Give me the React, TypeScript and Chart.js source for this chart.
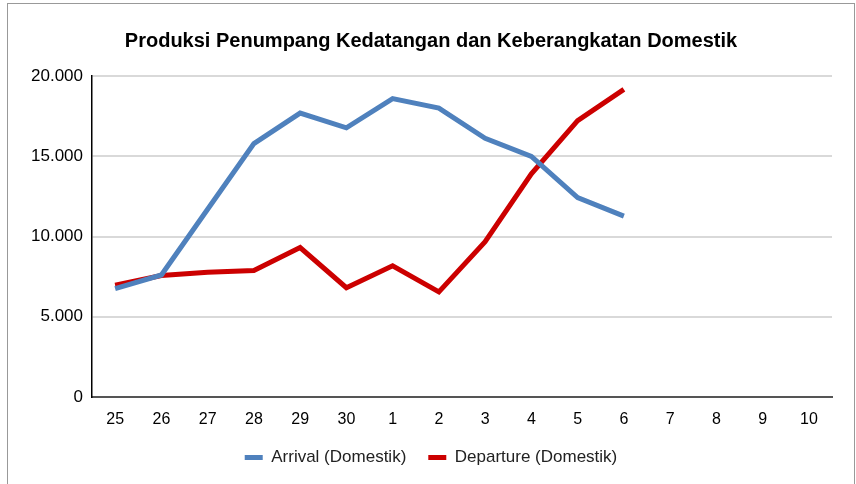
import React, { useEffect, useRef } from "react";
import { Chart, registerables } from "chart.js";

Chart.register(...registerables);

const categories = ["25", "26", "27", "28", "29", "30", "1", "2", "3", "4", "5", "6", "7", "8", "9", "10"];
const arrival = [6750, 7600, 11700, 15790, 17690, 16770, 18590, 18000, 16120, 14990, 12420, 11270, null, null, null, null];
const departure = [6960, 7570, 7770, 7880, 9310, 6810, 8180, 6550, 9680, 13910, 17220, 19170, null, null, null, null];
const yTicks = [0, 5000, 10000, 15000, 20000];

const fmt = (v: number) => v.toLocaleString("de-DE");

export default function App() {
  const ref = useRef<HTMLCanvasElement>(null);
  useEffect(() => {
    const font = "'Liberation Sans', Arial, sans-serif";
    const chart = new Chart(ref.current!, {
      type: "line",
      data: {
        labels: categories,
        datasets: [
          {
            label: "Arrival (Domestik)",
            data: arrival,
            borderColor: "#4f81bd",
            backgroundColor: "#4f81bd",
            borderWidth: 5,
            pointRadius: 0,
            tension: 0,
            spanGaps: false,
          },
          {
            label: "Departure (Domestik)",
            data: departure,
            borderColor: "#cc0000",
            backgroundColor: "#cc0000",
            borderWidth: 5,
            pointRadius: 0,
            tension: 0,
            spanGaps: false,
          },
        ],
      },
      options: {
        animation: false,
        responsive: false,
        layout: { padding: { left: 30, right: 24, top: 0, bottom: 8 } },
        plugins: {
          title: {
            display: true,
            text: "Produksi Penumpang Kedatangan dan Keberangkatan Domestik",
            color: "#000",
            font: { family: font, size: 20, weight: "bold", lineHeight: 1.2 },
            padding: { top: 29, bottom: 23 },
          },
          legend: {
            position: "bottom",
            labels: {
              color: "#222",
              font: { family: font, size: 17 },
              boxWidth: 18,
              boxHeight: 5,
              padding: 22,
              generateLabels: (c: any) =>
                Chart.defaults.plugins.legend.labels.generateLabels(c).map((l: any) => ({ ...l, lineWidth: 0 })),
            },
          },
          tooltip: { enabled: false },
        },
        scales: {
          x: {
            offset: true,
            grid: { display: false, drawTicks: false },
            border: { color: "#555", width: 2 },
            ticks: { color: "#000", font: { family: font, size: 16 }, padding: 13, maxRotation: 0, autoSkip: false },
            afterFit: (s: any) => { s.height = 30; },
          },
          y: {
            min: 0,
            max: 20000,
            afterBuildTicks: (s: any) => { s.ticks = yTicks.map((v) => ({ value: v })); },
            grid: { color: "#d9d9d9", lineWidth: 2, drawTicks: false },
            border: { color: "#000", width: 1.5 },
            ticks: { color: "#000", font: { family: font, size: 17 }, padding: 9, callback: (v: any) => fmt(Number(v)) },
            afterFit: (s: any) => { s.width = 62; },
          },
        },
      },
    });
    return () => chart.destroy();
  }, []);
  return (
    <div style={{ position: "fixed", left: 0, top: 0, width: 856, height: 484, background: "#fff", overflow: "hidden" }}>
      <div style={{ position: "absolute", left: 7, top: 3, width: 846, height: 520, border: "1px solid #999", boxSizing: "content-box" }} />
      <canvas ref={ref} width={856} height={484} style={{ position: "absolute", left: 0, top: 0 }} />
    </div>
  );
}
